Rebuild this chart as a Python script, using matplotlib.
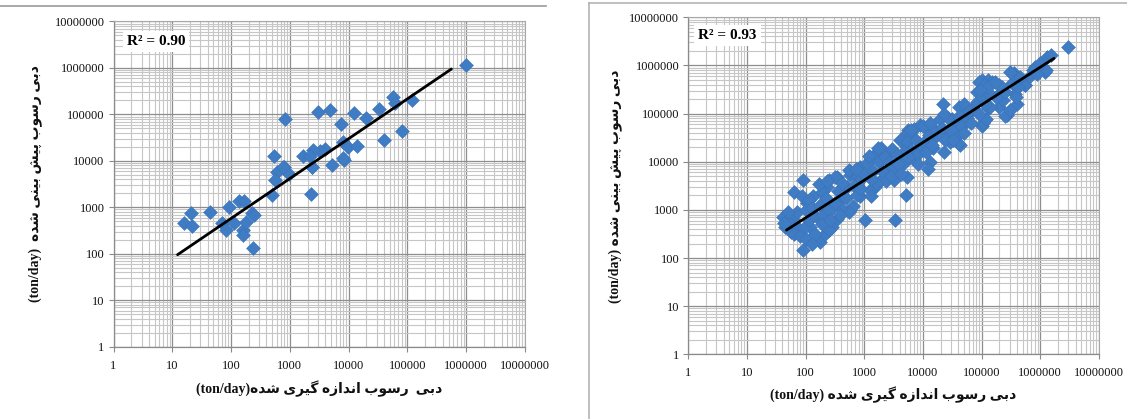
import matplotlib
matplotlib.use("Agg")
import numpy as np
import matplotlib.pyplot as plt
from matplotlib.lines import Line2D
from matplotlib.ticker import FixedLocator, FixedFormatter, LogLocator, NullFormatter

# ---------------- data ----------------
decades = [1, 10, 100, 1000, 10000, 100000, 1000000, 10000000]
tick_labels = ["1", "10", "100", "1000", "10000", "100000", "1000000", "10000000"]

# measured vs. predicted sediment discharge (ton/day) - first model
left_measured = [1.0e6, 5.6e4, 6.2e4, 1.2e5, 3.3e4, 8.2e4, 4.0e4, 2.0e4, 1.24e4, 4.8e3,
                 3.0e3, 830, 7.4e3, 8.0e3, 9.8e3, 1.4e4, 8.2e3, 5.2e3, 4.0e3, 3.2e3,
                 2.5e3, 1.7e3, 2.2e3, 2.4e3, 2.3e3, 534, 790, 980, 600, 560,
                 500, 134, 166, 91, 44, 21, 16, 22, 70, 82,
                 112, 158, 162, 182, 224, 246, 235, 2340, 770, 8100]
left_predicted = [1.13e6, 2.4e5, 1.75e5, 2.0e5, 1.3e5, 4.3e4, 2.8e4, 8.5e4, 1.07e5, 1.26e5,
                  1.12e5, 8.1e4, 6.3e4, 2.5e4, 2.0e4, 2.1e4, 1.07e4, 8.0e3, 1.8e4, 1.6e4,
                  1.7e4, 1.25e4, 1.3e4, 7.4e3, 1.9e3, 1.3e4, 7.4e3, 5.3e3, 5.7e3, 3.8e3,
                  1.85e3, 1.4e3, 1.35e3, 1.0e3, 800, 770, 460, 390, 460, 330,
                  460, 320, 250, 490, 760, 680, 130, 7500, 7500, 11500]
left_r2 = "R² = 0.90"
left_fit_coef, left_fit_exp = 11.1, 0.858
left_fit_range = [12.3, 5.6e5]

# measured vs. predicted sediment discharge (ton/day) - second model
right_measured = [
    89, 89, 62, 41, 45, 62, 105, 135, 85, 120,
    178, 214, 280, 245, 340, 440, 575, 575, 850, 1260,
    1500, 1020, 1900, 2400, 3400, 3200, 4100, 5400, 5100, 5600,
    5400, 5400, 4100, 3000, 4700, 1600, 1100, 740, 500, 850,
    1260, 1900, 650, 390, 300, 230, 178, 340, 230, 190,
    166, 1.29e6, 8.1e5, 1.2e6, 5.5e5, 3.5e5, 3.3e5, 3.7e5, 4.0e5, 2.7e5,
    1.95e5, 1.3e5, 2.1e5, 1.0e5, 1.0e5, 1.3e5, 8.3e4, 7.2e4, 1.15e5, 5.2e4,
    4.1e4, 3.5e4, 4.3e4, 3.1e4, 2.2e4, 1.95e4, 2.6e4, 2.9e4, 1.7e4, 1.2e4,
    8.9e3, 6.9e3, 6.0e3, 1.3e4, 1.2e4, 5.4e3, 4.7e3, 8.9e3, 1.5e4, 3.8e4,
    9.1e4, 1.12e5, 1.5e5, 2.0e5, 1.05e5, 1.2e5, 1.4e5, 6.9e4, 5.1e4, 2.5e5,
    3.0e5, 3.8e5, 2.3e5, 3.5e5, 3.0e5, 5.4e5, 7.6e5, 6.6e5, 1.26e6, 1.5e6,
    2.95e6, 3.9e4, 3.6e4, 2.3e4, 6.2e3, 1.0e4, 2.3e3, 1.3e3, 1.2e3, 1.7e3,
    3.0e3, 550, 320, 230, 115, 250, 145, 550,
    50, 56, 71, 76, 100, 112, 126, 95, 141, 178,
    200, 224, 250, 190, 263, 355, 400, 417, 480, 316,
    380, 660, 760, 890, 830, 1000, 710, 1410, 1580, 1780,
    2000, 1320, 2240, 2630, 3160, 3550, 3800, 2820, 4170, 6310,
    7080, 7590, 7940, 5620, 8320, 10500, 11200, 12600, 14100, 15800,
    13200, 20900, 24000, 26300, 30200, 33100, 22900, 41700, 45700, 50100,
    56200, 60300, 66100, 83200, 89100, 100000, 112000, 126000, 126000, 95500,
    178000, 224000, 251000, 166000, 417000, 447000, 891000, 1000000,
    42, 50, 63, 79, 100, 126]
right_predicted = [
    150, 4200, 2400, 720, 450, 620, 1400, 1900, 1900, 450,
    220, 320, 450, 4200, 4900, 2600, 1000, 5200, 7900, 12600,
    3000, 620, 19000, 6800, 620, 4200, 12600, 20000, 2000, 46000,
    4900, 39000, 28000, 17000, 9300, 15000, 9300, 4900, 3000, 1900,
    2600, 4200, 1200, 1600, 1200, 850, 620, 660, 3000, 2400,
    3500, 1.5e6, 9.3e5, 7.4e5, 3.9e5, 6.9e5, 4.3e5, 2.5e5, 1.6e5, 9.3e4,
    1.4e5, 1.3e5, 2.8e5, 5.4e4, 5.0e5, 5.0e5, 2.8e5, 1.3e5, 7.4e4, 1.3e5,
    1.4e5, 5.8e4, 2.2e4, 7.9e4, 1.6e5, 7.9e4, 4.2e4, 2.6e4, 3.5e4, 4.9e4,
    5.8e4, 4.9e4, 3.5e4, 1.0e4, 7.2e3, 2.6e4, 1.6e4, 1.9e4, 1.9e4, 3.5e4,
    4.6e5, 4.2e5, 4.6e5, 4.0e5, 6.3e4, 7.9e4, 1.4e5, 1.2e5, 1.6e5, 8.7e4,
    1.2e5, 2.2e5, 1.9e5, 6.3e5, 7.4e5, 4.0e5, 8.1e5, 5.9e5, 8.1e5, 1.66e6,
    2.45e6, 2.4e4, 3.9e4, 1.6e4, 4.6e4, 5.4e4, 3.9e3, 1.9e3, 1.3e4, 1.9e4,
    1.8e4, 6800, 4900, 3900, 1600, 380, 320, 910,
    560, 350, 890, 400, 1000, 630, 1120, 420, 790, 1260,
    790, 1780, 1000, 500, 630, 2500, 1120, 3550, 1780, 1410,
    790, 3160, 2000, 4470, 2820, 5620, 7080, 6310, 3550, 10000,
    6310, 4470, 12600, 10000, 7080, 14100, 8910, 5010, 5620, 17800,
    11200, 28200, 14100, 12600, 8910, 25100, 15800, 35500, 22400, 44700,
    63100, 50100, 28200, 79400, 44700, 28200, 100000, 89100, 56200, 39800,
    79400, 112000, 63100, 178000, 100000, 224000, 158000, 282000, 355000, 316000,
    224000, 355000, 282000, 447000, 355000, 562000, 661000, 1120000,
    525, 890, 316, 282, 251, 200]
right_r2 = "R² = 0.93"
right_fit_coef, right_fit_exp = 18.7, 0.782
right_fit_range = [47, 1.72e6]

unit_text = "(ton/day)"
left_xlabel_fa = "دبی  رسوب اندازه گیری شده"
left_ylabel_fa = "دبی رسوب پیش بینی شده"
right_xlabel_fa = "دبی رسوب اندازه گیری شده"
right_ylabel_fa = "دبی رسوب پیش بینی شده"

# ---------------- Persian shaping (presentation forms, visual order) ----------------
FORMS = {  # isolated, final, initial, medial
    'ا': ('\uFE8D', '\uFE8E', None, None),
    'ب': ('\uFE8F', '\uFE90', '\uFE91', '\uFE92'),
    'پ': ('\uFB56', '\uFB57', '\uFB58', '\uFB59'),
    'د': ('\uFEA9', '\uFEAA', None, None),
    'ر': ('\uFEAD', '\uFEAE', None, None),
    'ز': ('\uFEAF', '\uFEB0', None, None),
    'س': ('\uFEB1', '\uFEB2', '\uFEB3', '\uFEB4'),
    'ش': ('\uFEB5', '\uFEB6', '\uFEB7', '\uFEB8'),
    'گ': ('\uFB92', '\uFB93', '\uFB94', '\uFB95'),
    'ن': ('\uFEE5', '\uFEE6', '\uFEE7', '\uFEE8'),
    'ه': ('\uFEE9', '\uFEEA', '\uFEEB', '\uFEEC'),
    'و': ('\uFEED', '\uFEEE', None, None),
    'ی': ('\uFBFC', '\uFBFD', '\uFBFE', '\uFBFF'),
}


def _joins_forward(ch):
    return ch in FORMS and FORMS[ch][2] is not None


def shape_rtl(text):
    out = []
    for i, ch in enumerate(text):
        if ch not in FORMS:
            out.append(ch)
            continue
        prev = text[i - 1] if i > 0 else ''
        nxt = text[i + 1] if i + 1 < len(text) else ''
        p = _joins_forward(prev)
        n = _joins_forward(ch) and nxt in FORMS
        iso, fin, ini, med = FORMS[ch]
        out.append(med if (p and n) else fin if p else ini if n else iso)
    return ''.join(reversed(out))


# ---------------- figure ----------------
W, H = 1127, 419
fig = plt.figure(figsize=(W / 100, H / 100), dpi=100, facecolor="white")

SERIF = ['Liberation Serif', 'DejaVu Sans']
MARK_FACE = '#3f7cc4'
MARK_EDGE = '#3a74ba'


def px_axes(x0, y0, x1, y1):
    return fig.add_axes([x0 / W, 1 - y1 / H, (x1 - x0) / W, (y1 - y0) / H])


def style_axes(ax):
    ax.set_xscale('log')
    ax.set_yscale('log')
    ax.set_xlim(decades[0], decades[-1])
    ax.set_ylim(decades[0], decades[-1])
    for axis in (ax.xaxis, ax.yaxis):
        axis.set_major_locator(FixedLocator(decades))
        axis.set_major_formatter(FixedFormatter(tick_labels))
        axis.set_minor_locator(LogLocator(base=10, subs=np.arange(2, 10), numticks=20))
        axis.set_minor_formatter(NullFormatter())
    ax.grid(which='minor', color='#c6c6c6', linewidth=0.8)
    ax.grid(which='major', color='#8e8e8e', linewidth=0.9)
    ax.set_axisbelow(True)
    ax.tick_params(which='minor', length=0)
    ax.tick_params(which='major', length=3.5, width=0.8, color='#8a8a8a',
                   labelsize=9, labelcolor='#111111')
    ax.tick_params(axis='x', pad=6)
    ax.tick_params(axis='y', pad=3)
    for lab in ax.get_xticklabels() + ax.get_yticklabels():
        lab.set_family(SERIF)
    for side in ('left', 'bottom'):
        ax.spines[side].set_color('#8a8a8a')
        ax.spines[side].set_linewidth(0.9)
    for side in ('top', 'right'):
        ax.spines[side].set_color('#a8a8a8')
        ax.spines[side].set_linewidth(0.8)


def draw_panel(ax, xs, ys, coef, expo, xr, r2, r2_pos):
    style_axes(ax)
    ax.scatter(xs, ys, s=50, marker='D', facecolor=MARK_FACE, edgecolor=MARK_EDGE,
               linewidth=0.4, zorder=3)
    fx = np.array(xr, dtype=float)
    ax.plot(fx, coef * fx ** expo, color='black', linewidth=2.0, zorder=4,
            solid_capstyle='round')
    ax.text(r2_pos[0], r2_pos[1], r2, transform=ax.transAxes, family=SERIF,
            fontsize=11, fontweight='bold', va='center', ha='left', zorder=5,
            bbox=dict(facecolor='white', edgecolor='none', pad=3))


ax_l = px_axes(113.5, 21.5, 525, 346.7)
draw_panel(ax_l, left_measured, left_predicted, left_fit_coef, left_fit_exp,
           left_fit_range, left_r2, (0.032, 0.938))

ax_r = px_axes(688.4, 17.3, 1098.9, 354.3)
draw_panel(ax_r, right_measured, right_predicted, right_fit_coef, right_fit_exp,
           right_fit_range, right_r2, (0.024, 0.945))

# axis titles
lbl = dict(family=SERIF, fontsize=10, fontweight='bold', color='#111111',
           ha='center', va='center')
fig.text(319 / W, 1 - 389 / H, unit_text + shape_rtl(left_xlabel_fa), **lbl)
fig.text(36 / W, 1 - 184 / H, unit_text + "  " + shape_rtl(left_ylabel_fa),
         rotation=90, **lbl)
fig.text(893.6 / W, 1 - 395 / H, unit_text + " " + shape_rtl(right_xlabel_fa), **lbl)
fig.text(616 / W, 1 - 186 / H, unit_text + " " + shape_rtl(right_ylabel_fa),
         rotation=90, **lbl)

# chart borders
fig.add_artist(Line2D([0, 546 / W], [1 - 6 / H, 1 - 6 / H], color='#9a9a9a', lw=1.2,
                      transform=fig.transFigure))
fig.add_artist(Line2D([589 / W, 589 / W], [0, 1 - 3 / H], color='#b4b4b4', lw=1.2,
                      transform=fig.transFigure))
fig.add_artist(Line2D([589 / W, 1], [1 - 3 / H, 1 - 3 / H], color='#b4b4b4', lw=1.2,
                      transform=fig.transFigure))

fig.savefig("out.png", dpi=100, facecolor="white")
